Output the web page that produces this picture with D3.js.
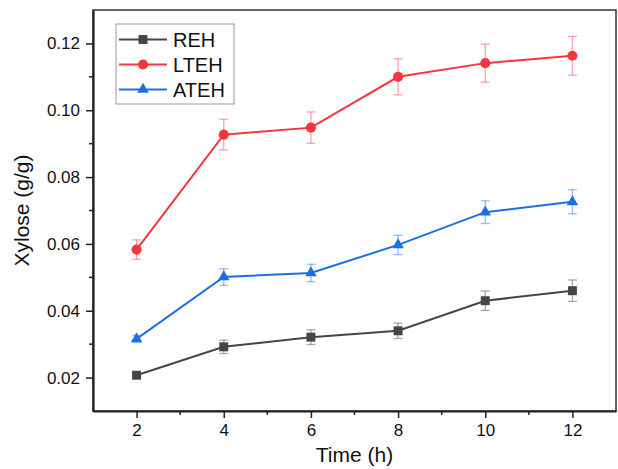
<!DOCTYPE html>
<html>
<head>
<meta charset="utf-8">
<script src="https://cdn.jsdelivr.net/npm/d3@7.9.0/dist/d3.min.js"></script>
<style>
  body { margin: 0; background: #fff; }
  svg { display: block; font-family: "Liberation Sans", Arial, sans-serif; }
</style>
</head>
<body>
<svg id="chart" width="618" height="469"></svg>
<script>
const times = [2, 4, 6, 8, 10, 12];
const rehValues = [0.0207, 0.0292, 0.0321, 0.0340, 0.0430, 0.0460];
const rehErrors = [0.0009, 0.0020, 0.0022, 0.0023, 0.0029, 0.0032];
const ltehValues = [0.0583, 0.0927, 0.0948, 0.1100, 0.1141, 0.1163];
const ltehErrors = [0.0029, 0.0046, 0.0047, 0.0054, 0.0057, 0.0058];
const atehValues = [0.0316, 0.0501, 0.0513, 0.0597, 0.0695, 0.0726];
const atehErrors = [0.0010, 0.0025, 0.0026, 0.0029, 0.0034, 0.0036];
const xTicks = [2, 4, 6, 8, 10, 12];
const yTicks = [0.02, 0.04, 0.06, 0.08, 0.10, 0.12];

const series = [
  { name: "REH", values: rehValues, errors: rehErrors, color: "#454545", symbol: d3.symbolSquare, size: 80 },
  { name: "LTEH", values: ltehValues, errors: ltehErrors, color: "#f5363f", symbol: d3.symbolCircle, size: 80 },
  { name: "ATEH", values: atehValues, errors: atehErrors, color: "#1c6fe3", symbol: d3.symbolTriangle, size: 58 },
];

const margin = { top: 10, right: 2, bottom: 58, left: 93 };
const width = 618 - margin.left - margin.right;
const height = 469 - margin.top - margin.bottom;

const svg = d3.select("#chart");
const g = svg.append("g").attr("transform", `translate(${margin.left},${margin.top})`);

const x = d3.scaleLinear().domain([1, 13]).range([0, width]);
const y = d3.scaleLinear().domain([0.01, 0.13]).range([height, 0]);

// frame
g.append("rect")
  .attr("width", width)
  .attr("height", height)
  .attr("fill", "none")
  .attr("stroke", "#333")
  .attr("stroke-width", 1.5);

// minor ticks
const xMinor = d3.range(3, 13, 2);
const yMinor = d3.range(0.03, 0.13, 0.02);

g.selectAll(".xminor")
  .data(xMinor)
  .join("line")
  .attr("x1", (d) => x(d))
  .attr("x2", (d) => x(d))
  .attr("y1", height)
  .attr("y2", height + 4)
  .attr("stroke", "#222")
  .attr("stroke-width", 1.5);

g.selectAll(".yminor")
  .data(yMinor)
  .join("line")
  .attr("y1", (d) => y(d))
  .attr("y2", (d) => y(d))
  .attr("x1", 0)
  .attr("x2", -4)
  .attr("stroke", "#222")
  .attr("stroke-width", 1.5);

const xAxis = g.append("g")
  .attr("transform", `translate(0,${height})`)
  .call(d3.axisBottom(x).tickValues(xTicks).tickSize(7).tickPadding(6).tickSizeOuter(0));

const yAxis = g.append("g")
  .call(d3.axisLeft(y).tickValues(yTicks).tickFormat(d3.format(".2f")).tickSize(7).tickPadding(6).tickSizeOuter(0));

[xAxis, yAxis].forEach((ax) => {
  ax.select(".domain").attr("stroke", "#222").attr("stroke-width", 2.2);
  ax.selectAll(".tick line").attr("stroke", "#222").attr("stroke-width", 1.5);
  ax.selectAll(".tick text")
    .attr("fill", "#111")
    .style("font-size", "17px")
    .style("font-family", "Liberation Sans, Arial, sans-serif");
});

// axis titles
svg.append("text")
  .attr("x", margin.left + width / 2)
  .attr("y", 462)
  .attr("text-anchor", "middle")
  .attr("fill", "#111")
  .style("font-size", "21px")
  .text("Time (h)");

svg.append("text")
  .attr("transform", `translate(29,${margin.top + height / 2}) rotate(-90)`)
  .attr("text-anchor", "middle")
  .attr("fill", "#111")
  .style("font-size", "21px")
  .text("Xylose (g/g)");

const line = d3.line()
  .x((d) => x(d.t))
  .y((d) => y(d.v));

series.forEach((s) => {
  const pts = times.map((t, i) => ({ t, v: s.values[i], e: s.errors[i] }));
  const sg = g.append("g");

  // error bars
  const eb = sg.selectAll(".err")
    .data(pts)
    .join("g")
    .attr("stroke", s.color)
    .attr("stroke-opacity", 0.45)
    .attr("stroke-width", 1.3);
  eb.append("line")
    .attr("x1", (d) => x(d.t)).attr("x2", (d) => x(d.t))
    .attr("y1", (d) => y(d.v - d.e)).attr("y2", (d) => y(d.v + d.e));
  eb.append("line")
    .attr("x1", (d) => x(d.t) - 4.5).attr("x2", (d) => x(d.t) + 4.5)
    .attr("y1", (d) => y(d.v + d.e)).attr("y2", (d) => y(d.v + d.e));
  eb.append("line")
    .attr("x1", (d) => x(d.t) - 4.5).attr("x2", (d) => x(d.t) + 4.5)
    .attr("y1", (d) => y(d.v - d.e)).attr("y2", (d) => y(d.v - d.e));

  sg.append("path")
    .datum(pts)
    .attr("d", line)
    .attr("fill", "none")
    .attr("stroke", s.color)
    .attr("stroke-width", 2);

  sg.selectAll(".mark")
    .data(pts)
    .join("path")
    .attr("d", d3.symbol().type(s.symbol).size(s.size))
    .attr("transform", (d) => `translate(${x(d.t)},${y(d.v)})`)
    .attr("fill", s.color);
});

// legend
const legend = svg.append("g").attr("transform", "translate(116,24)");
legend.append("rect")
  .attr("width", 118)
  .attr("height", 80)
  .attr("fill", "#fff")
  .attr("stroke", "#999")
  .attr("stroke-width", 1);

series.forEach((s, i) => {
  const row = legend.append("g").attr("transform", `translate(0,${15.5 + i * 25})`);
  row.append("line")
    .attr("x1", 3).attr("x2", 51)
    .attr("stroke", s.color)
    .attr("stroke-width", 2);
  row.append("path")
    .attr("d", d3.symbol().type(s.symbol).size(s.size))
    .attr("transform", "translate(27,0)")
    .attr("fill", s.color);
  row.append("text")
    .attr("x", 57)
    .attr("y", 7)
    .attr("fill", "#111")
    .style("font-size", "20px")
    .text(s.name);
});
</script>
</body>
</html>
